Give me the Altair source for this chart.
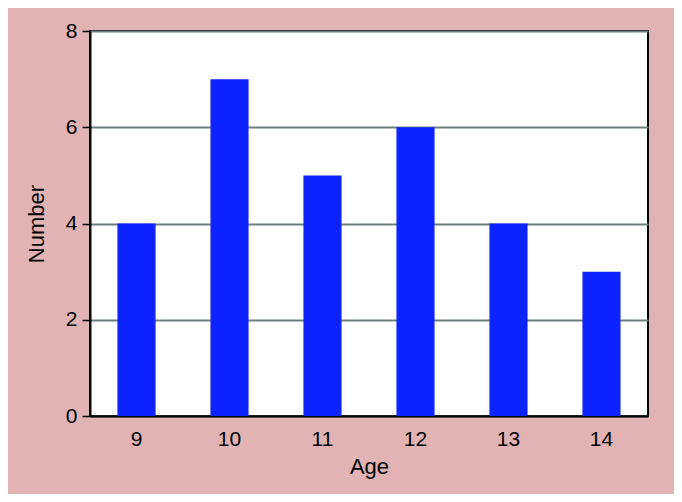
import altair as alt
import pandas as pd

ages = ["9", "10", "11", "12", "13", "14"]
counts = [4, 7, 5, 6, 4, 3]

df = pd.DataFrame({"Age": ages, "Number": counts})

FONT = "Liberation Sans"

chart = alt.Chart(df).mark_bar(color="#0d23ff").encode(
    x=alt.X(
        "Age:N",
        sort=ages,
        title="Age",
        scale=alt.Scale(paddingInner=0.59, paddingOuter=0.295),
        axis=alt.Axis(
            labelAngle=0,
            ticks=False,
            labelPadding=12,
            labelFontSize=21,
            titleFontSize=22,
            titleFontWeight="normal",
            titlePadding=7,
            domainColor="black",
            domainWidth=2,
            labelColor="black",
            titleColor="black",
            labelFont=FONT,
            titleFont=FONT,
            grid=False,
        ),
    ),
    y=alt.Y(
        "Number:Q",
        title="Number",
        scale=alt.Scale(domain=[0, 8], nice=False),
        axis=alt.Axis(
            values=[0, 2, 4, 6, 8],
            tickSize=8,
            tickColor="black",
            tickWidth=1.5,
            labelPadding=5,
            labelFontSize=21,
            titleFontSize=22,
            titleFontWeight="normal",
            titlePadding=17,
            domainColor="black",
            domainWidth=2,
            labelColor="black",
            titleColor="black",
            labelFont=FONT,
            titleFont=FONT,
            grid=True,
            gridColor="#6b807e",
            gridWidth=2,
        ),
    ),
).properties(
    width=558,
    height=385,
    background="#e1b3b3",
    padding={"left": 82, "top": 23, "right": 26, "bottom": 78},
    autosize=alt.AutoSizeParams(type="none"),
).configure_view(
    fill="white",
    stroke="black",
    strokeWidth=2,
)

chart.save("out.html", embed_options={"renderer": "svg", "actions": False})
